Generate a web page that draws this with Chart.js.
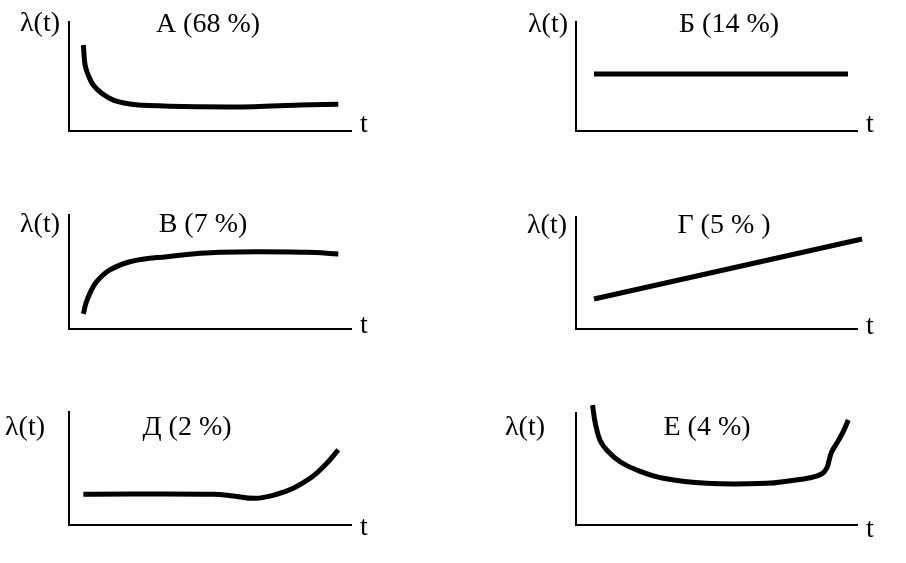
<!DOCTYPE html>
<html>
<head>
<meta charset="utf-8">
<script src="https://cdn.jsdelivr.net/npm/chart.js@4.4.1/dist/chart.umd.min.js"></script>
<style>
  html, body { margin: 0; padding: 0; background: #fff; }
  #page { position: relative; width: 906px; height: 563px; overflow: hidden; }
  #page canvas { position: absolute; }
</style>
</head>
<body>
<div id="page"></div>
<script>
// --- Data (t and λ in relative units, 0..100 on each panel) ---
const titles = ['А (68 %)', 'Б (14 %)', 'В (7 %)', 'Г (5 % )', 'Д (2 %)', 'Е (4 %)'];
const yLabel = 'λ(t)';
const xLabel = 't';

const tA   = [5.1, 5.7, 6.8, 8.6, 11.6, 15.7, 21.6, 28.1, 45.3, 65.4, 81.9, 95.5];
const lamA = [78.9, 60.6, 51.4, 42.2, 34.6, 28.4, 24.8, 23.3, 22.3, 22.3, 23.9, 24.5];

const tB   = [6.4, 96.8];
const lamB = [52.3, 52.3];

const tV   = [5.1, 6.0, 7.4, 9.8, 14.5, 21.6, 34.6, 53.5, 84.3, 95.5];
const lamV = [13.2, 22.5, 31.3, 41.5, 51.8, 59.0, 63.4, 67.3, 67.3, 65.8];

const tG   = [6.4, 101.8];
const lamG = [26.8, 80.4];

const tD   = [5.1, 51.2, 58.3, 66.0, 73.7, 79.5, 85.5, 90.8, 95.5];
const lamD = [27.2, 27.2, 25.7, 23.6, 27.2, 32.5, 41.3, 53.1, 66.4];

const tE   = [5.9, 6.8, 8.5, 10.9, 15.7, 21.6, 31.1, 46.5, 67.9, 76.2, 83.3, 87.4, 89.2, 90.1, 91.0, 92.8, 95.1, 96.9];
const lamE = [107.1, 91.7, 75.9, 67.0, 56.5, 49.1, 41.7, 37.2, 37.2, 39.6, 42.2, 45.5, 50.6, 58.0, 65.4, 72.9, 83.3, 93.8];

const curves = [[tA, lamA], [tB, lamB], [tV, lamV], [tG, lamG], [tD, lamD], [tE, lamE]];

// --- Layout (page pixels) ---
// canvas box, axis frame, label anchors
const frames = [
  { x: 0,   y: 0,   w: 453, h: 188, L: 69,  R: 351, T: 22,  B: 131, title: [208, 32],  yl: [60, 31],  xl: [360, 132] },
  { x: 453, y: 0,   w: 453, h: 188, L: 576, R: 857, T: 22,  B: 131, title: [729, 32],  yl: [568, 32], xl: [866, 132] },
  { x: 0,   y: 188, w: 453, h: 188, L: 69,  R: 351, T: 215, B: 329, title: [203, 232], yl: [60, 232], xl: [360, 333] },
  { x: 453, y: 188, w: 453, h: 188, L: 576, R: 857, T: 217, B: 329, title: [724, 233], yl: [567, 233], xl: [866, 334] },
  { x: 0,   y: 376, w: 453, h: 187, L: 69,  R: 351, T: 412, B: 525, title: [187, 435], yl: [45, 435], xl: [360, 535] },
  { x: 453, y: 376, w: 453, h: 187, L: 576, R: 857, T: 413, B: 525, title: [707, 435], yl: [545, 435], xl: [866, 537] },
];

const FONT = '28px "Liberation Serif", "Times New Roman", serif';

// draws panel title and axis names
const labelPlugin = {
  id: 'panelLabels',
  afterDraw(chart, args, opts) {
    const { ctx } = chart;
    const f = opts.frame;
    ctx.save();
    ctx.fillStyle = '#000';
    ctx.font = FONT;
    ctx.textBaseline = 'alphabetic';
    ctx.textAlign = 'center';
    ctx.fillText(opts.title, f.title[0] - f.x, f.title[1] - f.y);
    ctx.textAlign = 'right';
    ctx.fillText(yLabel, f.yl[0] - f.x, f.yl[1] - f.y);
    ctx.textAlign = 'left';
    ctx.fillText(xLabel, f.xl[0] - f.x, f.xl[1] - f.y);
    ctx.restore();
  }
};

const page = document.getElementById('page');

frames.forEach((f, i) => {
  const canvas = document.createElement('canvas');
  canvas.width = f.w;
  canvas.height = f.h;
  canvas.style.left = f.x + 'px';
  canvas.style.top = f.y + 'px';
  canvas.style.width = f.w + 'px';
  canvas.style.height = f.h + 'px';
  page.appendChild(canvas);

  const [ts, lams] = curves[i];
  const axis = {
    min: 0, max: 100,
    grid: { display: false, drawTicks: false },
    ticks: { display: false },
    border: { display: true, color: '#000', width: 2 },
  };

  new Chart(canvas, {
    type: 'scatter',
    data: {
      datasets: [{
        data: ts.map((t, k) => ({ x: t, y: lams[k] })),
        showLine: true,
        borderColor: '#000',
        borderWidth: 5,
        borderCapStyle: 'butt',
        borderJoinStyle: 'round',
        pointRadius: 0,
        tension: 0.4,
        clip: false,
      }],
    },
    options: {
      responsive: false,
      animation: false,
      devicePixelRatio: 1,
      layout: {
        padding: { left: f.L - f.x, right: f.x + f.w - f.R, top: f.T - f.y, bottom: f.y + f.h - f.B },
      },
      scales: { x: { ...axis, position: 'bottom' }, y: { ...axis, position: 'left' } },
      plugins: {
        legend: { display: false },
        tooltip: { enabled: false },
        panelLabels: { frame: f, title: titles[i] },
      },
    },
    plugins: [labelPlugin],
  });
});
</script>
</body>
</html>
